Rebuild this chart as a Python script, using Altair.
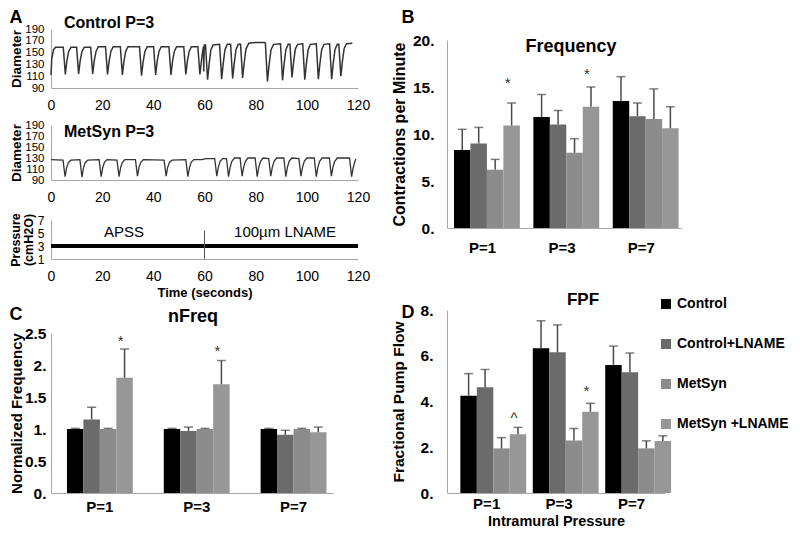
import altair as alt
import pandas as pd

FONT = "Liberation Sans"
AXIS_GRAY = "#a8a8a8"
ERR_GRAY = "#4a4a4a"

# ---------------- panel A data ----------------
time_ticks = [0, 20, 40, 60, 80, 100, 120]
diam_ticks = [90, 110, 130, 150, 170, 190]
press_ticks = [1, 3, 5, 7]

# (time s, diameter) read from the Control P=3 trace
control_trace = [
    (0, 112), (0.3, 140), (1.0, 155), (1.8, 159),
    (4.8, 159), (5.6, 113), (6.2, 136), (6.9, 152), (7.8, 159),
    (10.0, 159), (10.8, 114), (11.4, 136), (12.1, 152), (13.0, 159),
    (15.5, 159), (16.3, 114), (16.9, 136), (17.6, 152), (18.5, 160),
    (21.3, 160), (22.1, 113), (22.7, 135), (23.4, 152), (24.3, 160),
    (27.1, 160), (27.9, 112), (28.5, 135), (29.2, 152), (30.1, 160),
    (34.6, 160), (35.4, 111), (36.0, 134), (36.7, 152), (37.6, 160),
    (40.1, 160), (40.9, 112), (41.5, 135), (42.2, 152), (43.1, 160),
    (46.1, 160), (46.9, 112), (47.5, 135), (48.2, 152), (49.1, 160),
    (51.9, 160), (52.7, 113), (53.3, 135), (54.0, 152), (54.9, 160),
    (57.4, 160), (58.2, 113), (58.8, 136), (59.3, 153), (59.6, 160), (59.7, 118), (59.9, 163),
    (60.4, 163), (61.2, 104), (61.8, 130), (62.5, 155), (63.4, 163),
    (65.9, 164), (66.7, 105), (67.3, 131), (68.0, 155), (68.9, 164),
    (70.2, 164), (71.0, 106), (71.6, 131), (72.3, 155), (73.2, 164),
    (74.1, 164), (74.9, 107), (75.5, 132), (76.2, 156), (77.3, 166), (80.0, 167), (83.6, 167),
    (83.8, 166), (84.6, 101), (85.2, 128), (86.0, 155), (87.0, 164),
    (89.7, 165), (90.5, 103), (91.1, 130), (91.8, 155), (92.7, 164),
    (93.4, 164), (94.2, 108), (94.8, 133), (95.5, 156), (96.4, 164),
    (98.4, 165), (99.2, 104), (99.8, 130), (100.5, 155), (101.4, 164),
    (103.7, 165), (104.5, 105), (105.1, 131), (105.8, 155), (106.7, 164),
    (108.9, 165), (109.7, 105), (110.3, 131), (111.0, 155), (111.9, 164),
    (112.5, 164), (113.3, 110), (113.9, 135), (114.6, 157), (115.5, 165), (117.8, 166),
]

# (time s, diameter) read from the MetSyn P=3 trace
metsyn_trace = [
    (0, 127), (4.7, 126), (5.5, 96), (6.1, 112), (6.8, 122), (7.8, 126),
    (11.3, 127), (12.1, 95), (12.7, 112), (13.4, 122), (14.4, 126),
    (18.8, 127), (19.6, 96), (20.2, 112), (20.9, 122), (21.9, 127),
    (25.8, 126), (26.6, 96), (27.2, 112), (27.9, 122), (28.9, 127),
    (33.0, 127), (33.8, 97), (34.4, 113), (35.1, 122), (36.1, 127),
    (44.2, 126), (45.0, 97), (45.6, 113), (46.3, 122), (47.3, 126),
    (52.7, 127), (53.5, 96), (54.1, 112), (54.8, 122), (55.8, 127),
    (59.0, 127), (60.5, 129),
    (64.0, 129), (64.8, 97), (65.4, 113), (66.1, 124), (67.1, 129),
    (68.6, 129), (69.4, 96), (70.0, 113), (70.7, 124), (71.7, 130),
    (73.9, 130), (74.7, 97), (75.3, 113), (76.0, 124), (77.0, 130),
    (79.8, 130), (80.6, 96), (81.2, 113), (81.9, 124), (82.9, 130),
    (85.1, 129), (85.9, 97), (86.5, 113), (87.2, 124), (88.2, 130),
    (91.0, 130), (91.8, 96), (92.4, 113), (93.1, 124), (94.1, 130),
    (96.9, 129), (97.7, 97), (98.3, 113), (99.0, 124), (100.0, 130),
    (102.9, 130), (103.7, 96), (104.3, 113), (105.0, 124), (106.0, 130),
    (108.8, 130), (109.6, 97), (110.2, 113), (110.9, 124), (111.9, 130),
    (116.7, 130), (117.5, 96), (118.1, 112), (118.8, 124), (119.2, 128),
]

pressure_time = [0, 120]
pressure_level = [3, 3]
switch_time = [60]
switch_low = [1]
switch_high = [5.4]
phase_names = ["APSS", "100µm LNAME"]
phase_time = [28.5, 91.5]
phase_level = [5.2, 5.2]

# ---------------- bar panels data ----------------
groups = ["P=1", "P=3", "P=7"]
series = ["Control", "Control+LNAME", "MetSyn", "MetSyn +LNAME"]
bar_colors = ["#000000", "#6b6b6b", "#8c8c8c", "#979797"]

freq_mean = {"Control": [8.3, 11.8, 13.5], "Control+LNAME": [9.0, 11.0, 11.9],
             "MetSyn": [6.2, 8.0, 11.6], "MetSyn +LNAME": [10.9, 12.9, 10.6]}
freq_err = {"Control": [10.5, 14.2, 16.1], "Control+LNAME": [10.7, 12.5, 13.3],
            "MetSyn": [7.3, 9.5, 14.8], "MetSyn +LNAME": [13.3, 15.0, 12.9]}
freq_marks = {"group": ["P=1", "P=3"], "sym": ["*", "*"], "pos": [15.4, 16.4]}

nfreq_mean = {"Control": [1.0, 1.0, 1.0], "Control+LNAME": [1.15, 0.97, 0.91],
              "MetSyn": [1.0, 1.0, 1.0], "MetSyn +LNAME": [1.80, 1.70, 0.95]}
nfreq_err = {"Control": [1.01, 1.01, 1.01], "Control+LNAME": [1.34, 1.03, 0.98],
             "MetSyn": [1.01, 1.01, 1.01], "MetSyn +LNAME": [2.25, 2.07, 1.03]}
nfreq_marks = {"group": ["P=1", "P=3"], "sym": ["*", "*"], "pos": [2.38, 2.22]}

fpf_mean = {"Control": [4.25, 6.33, 5.6], "Control+LNAME": [4.62, 6.15, 5.28],
            "MetSyn": [1.95, 2.3, 1.95], "MetSyn +LNAME": [2.57, 3.55, 2.27]}
fpf_err = {"Control": [5.22, 7.53, 6.42], "Control+LNAME": [5.4, 7.35, 6.12],
           "MetSyn": [2.42, 2.82, 2.28], "MetSyn +LNAME": [2.87, 3.92, 2.5]}
fpf_marks = {"group": ["P=1", "P=3"], "sym": ["^", "*"], "pos": [3.3, 4.45]}


# ---------------- helpers ----------------
def text_layer(text, x, y, size, weight="bold", align="center"):
    return alt.Chart(pd.DataFrame({"txt": [text]})).mark_text(
        fontSize=size, fontWeight=weight, align=align, baseline="middle", color="black"
    ).encode(x=alt.value(x), y=alt.value(y), text="txt:N")


def sentinel(x1, x2, y1, y2):
    return alt.Chart(pd.DataFrame({"k": [0]})).mark_rule(opacity=0).encode(
        x=alt.value(x1), x2=alt.value(x2), y=alt.value(y1), y2=alt.value(y2))


def spacer(x1, x2, width):
    return sentinel(x1, x2, 0, 1).properties(width=width, height=1)


def time_x(title=None):
    kw = dict(values=time_ticks, grid=False, ticks=False, domainColor=AXIS_GRAY,
              labelFontSize=14, labelColor="black", labelPadding=10,
              labelFlush=False, labelOverlap=False)
    if title:
        kw.update(title=title, titleFontSize=13, titleFontWeight="bold",
                  titlePadding=3, titleColor="black")
    else:
        kw.update(title=None)
    return alt.X("t:Q", scale=alt.Scale(domain=[0, 120], nice=False, zero=False),
                 axis=alt.Axis(**kw))


def diam_y(h):
    return alt.Y("v:Q", scale=alt.Scale(domain=[90, 190], nice=False, zero=False),
                 axis=alt.Axis(values=diam_ticks, grid=False, ticks=False,
                               domainColor=AXIS_GRAY, labelFontSize=11.5,
                               labelColor="black", labelPadding=7, labelOverlap=False,
                               labelFlush=False,
                               title="Diameter", titleFontSize=13.5,
                               titleFontWeight="bold", titleColor="black",
                               titleAngle=270, titleBaseline="middle",
                               titleX=-35, titleY=h / 2))


W_TRACE = 307
TRACE_COLOR = "#333333"

# A1 control
h1 = 59
ctrl_df = pd.DataFrame(control_trace, columns=["t", "v"])
A1 = alt.layer(
    alt.Chart(ctrl_df).mark_line(color=TRACE_COLOR, strokeWidth=1.5).encode(x=time_x(), y=diam_y(h1)),
    text_layer("A", -35, -11, 18),
    text_layer("Control P=3", 13, -6, 16, align="left"),
    sentinel(-42, 320, -20, 86),
).properties(width=W_TRACE, height=h1)

# A2 metsyn
h2 = 55
met_df = pd.DataFrame(metsyn_trace, columns=["t", "v"])
A2 = alt.layer(
    alt.Chart(met_df).mark_line(color=TRACE_COLOR, strokeWidth=1.3).encode(x=time_x(), y=diam_y(h2)),
    text_layer("MetSyn P=3", 13, 7, 16, align="left"),
    sentinel(-42, 320, -10, 87),
).properties(width=W_TRACE, height=h2)

# A3 pressure
h3 = 39
xP = time_x("Time (seconds)")
yP = alt.Y("v:Q", scale=alt.Scale(domain=[1, 7], nice=False, zero=False),
           axis=alt.Axis(values=press_ticks, grid=False, ticks=False, domainColor=AXIS_GRAY,
                         labelFontSize=12, labelColor="black", labelPadding=7,
                         labelOverlap=False, labelFlush=False,
                         title=["Pressure", "(cmH2O)"], titleFontSize=12.5,
                         titleFontWeight="bold", titleColor="black", titleLineHeight=13,
                         titleAngle=270, titleBaseline="middle", titleX=-35.5, titleY=h3 / 2))
press_df = pd.DataFrame({"t": pressure_time, "v": pressure_level})
switch_df = pd.DataFrame({"t": switch_time, "v": switch_low, "v2": switch_high})
phase_df = pd.DataFrame({"t": phase_time, "v": phase_level, "name": phase_names})
A3 = alt.layer(
    alt.Chart(press_df).mark_line(color="black", strokeWidth=4).encode(x=xP, y=yP),
    alt.Chart(switch_df).mark_rule(color="#555555", strokeWidth=1).encode(x=xP, y=yP, y2="v2:Q"),
    alt.Chart(phase_df).mark_text(fontSize=15, color="black", baseline="middle").encode(
        x=xP, y=yP, text="name:N"),
    sentinel(-42, 320, -8, 83),
).properties(width=W_TRACE, height=h3)


def bar_panel(mean, err, marks, ymax, yvals, width, height, ytitle, ytitle_x, ytitle_size,
              ylabel_pad, xband, xlabel_pad, title, title_xy, title_size, letter, letter_xy,
              sent, xtitle=None, legend=None):
    rows = [dict(group=g, series=s, mean=m, err=e)
            for s in series for g, m, e in zip(groups, mean[s], err[s])]
    df = pd.DataFrame(rows)
    mk = pd.DataFrame({"group": marks["group"], "series": ["MetSyn +LNAME"] * len(marks["group"]),
                       "mean": marks["pos"], "sym": marks["sym"]})
    xkw = dict(labelAngle=0, ticks=False, domainColor=AXIS_GRAY, labelFontSize=15,
               labelFontWeight="bold", labelColor="black", labelPadding=xlabel_pad)
    if xtitle:
        xkw.update(title=xtitle, titleFontSize=14.5, titleFontWeight="bold", titleColor="black",
                   titleY=28, titleBaseline="middle")
    else:
        xkw.update(title=None)
    x = alt.X("group:N", sort=groups,
              scale=alt.Scale(paddingInner=xband[0], paddingOuter=xband[1], align=xband[2]),
              axis=alt.Axis(**xkw))
    xo = alt.XOffset("series:N", sort=series, scale=alt.Scale(paddingInner=0, paddingOuter=0))

    def yenc(field):
        return alt.Y(f"{field}:Q", scale=alt.Scale(domain=[0, ymax], nice=False),
                     axis=alt.Axis(values=yvals,
                                   labelExpr="datum.value % 1 === 0 ? datum.value + '.' : datum.label",
                                   grid=False, ticks=False, domainColor=AXIS_GRAY,
                                   labelFontSize=15.5, labelFontWeight="bold", labelColor="black",
                                   labelPadding=ylabel_pad, labelOverlap=False, labelFlush=False,
                                   title=ytitle,
                                   titleFontSize=ytitle_size, titleFontWeight="bold",
                                   titleColor="black", titleAngle=270, titleBaseline="middle",
                                   titleX=ytitle_x, titleY=height / 2))

    color = alt.Color("series:N", sort=series, scale=alt.Scale(domain=series, range=bar_colors),
                      legend=legend)
    bars = alt.Chart(df).mark_bar().encode(x=x, xOffset=xo, y=yenc("mean"), color=color)
    rule = alt.Chart(df).mark_rule(color=ERR_GRAY, strokeWidth=1.5).encode(
        x=x, xOffset=xo, y=yenc("mean"), y2="err:Q")
    cap = alt.Chart(df).mark_tick(color=ERR_GRAY, thickness=1.5, size=9, orient="horizontal").encode(
        x=x, xOffset=xo, y=yenc("err"))
    stars = alt.Chart(mk).mark_text(fontSize=15, color="#333333", dx=-4, baseline="middle").encode(
        x=x, xOffset=xo, y=yenc("mean"), text="sym:N")
    return alt.layer(
        bars, rule, cap, stars,
        text_layer(title, title_xy[0], title_xy[1], title_size),
        text_layer(letter, letter_xy[0], letter_xy[1], 18),
        sentinel(*sent),
    ).properties(width=width, height=height)


B = bar_panel(freq_mean, freq_err, freq_marks, 20, [0, 5, 10, 15, 20], 234, 188,
              "Contractions per Minute", -48, 16, 13, (0.278, 0.113, 0.39), 12.5,
              "Frequency", (124, 7), 18, "B", (-39, -22), (-76, 250, -31, 238))

C = bar_panel(nfreq_mean, nfreq_err, nfreq_marks, 2.5, [0, 0.5, 1, 1.5, 2, 2.5], 282, 160,
              "Normalized Frequency", -34.5, 15, 5, (0.32, 0.116, 0.71), 6.5,
              "nFreq", (142, -16), 18, "C", (-35, -18), (-42, 320, -30, 190))

legend_d = alt.Legend(orient="none", legendX=212, legendY=-13, title=None, symbolType="square",
                      symbolSize=100, symbolStrokeWidth=0, labelFontSize=14,
                      labelFontWeight="bold", labelColor="black", rowPadding=26,
                      labelOffset=4, labelLimit=118)

D = bar_panel(fpf_mean, fpf_err, fpf_marks, 8, [0, 2, 4, 6, 8], 218, 183,
              "Fractional Pump Flow", -49, 15.5, 14, (0.274, 0.142, 0.65), 3,
              "FPF", (136, -10), 17, "D", (-39, 3), (-76, 250, -32, 219),
              xtitle="Intramural Pressure", legend=legend_d)

left = alt.vconcat(spacer(-42, 320, W_TRACE), A1, A2, A3, C, spacing=0).resolve_scale(
    color="independent").resolve_legend(color="independent")
right = alt.vconcat(spacer(-76, 250, 234), B, D, spacing=0).resolve_scale(
    color="independent").resolve_legend(color="independent")

chart = alt.hconcat(left, right, spacing=0).resolve_scale(color="independent").resolve_legend(
    color="independent").properties(padding=0, background="white").configure(
    font=FONT).configure_view(stroke=None)

chart.save("out.html", embed_options={"renderer": "svg", "actions": False})
